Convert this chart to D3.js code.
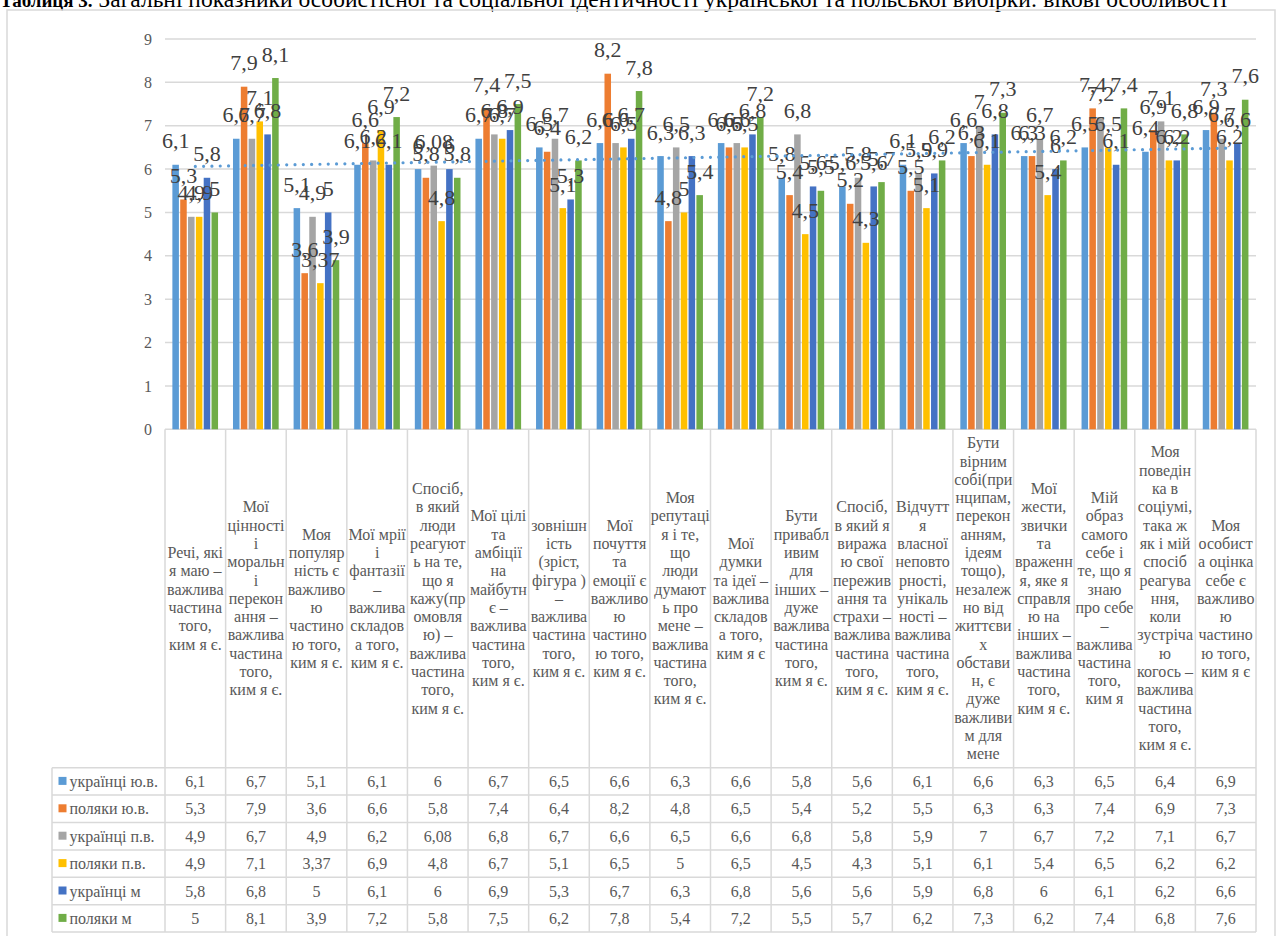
<!DOCTYPE html>
<html><head><meta charset="utf-8">
<script src="https://cdn.jsdelivr.net/npm/d3@7/dist/d3.min.js"></script>
<style>body{margin:0;background:#fff} svg{display:block}</style>
</head><body>
<svg id="c" width="1283" height="936"></svg>
<script>
// ---------- DATA ----------
const categories = [
  ["Речі, які","я маю –","важлива","частина","того,","ким я є."],
  ["Мої","цінності","і","моральн","і","перекон","ання –","важлива","частина","того,","ким я є."],
  ["Моя","популяр","ність є","важливо","ю","частино","ю того,","ким я є."],
  ["Мої мрії","і","фантазії","–","важлива","складов","а того,","ким я є."],
  ["Спосіб,","в який","люди","реагуют","ь на те,","що я","кажу(пр","омовля","ю) –","важлива","частина","того,","ким я є."],
  ["Мої цілі","та","амбіції","на","майбутн","є –","важлива","частина","того,","ким я є."],
  ["зовнішн","ість","(зріст,","фігура )","–","важлива","частина","того,","ким я є."],
  ["Мої","почуття","та","емоції є","важливо","ю","частино","ю того,","ким я є."],
  ["Моя","репутаці","я і те,","що","люди","думают","ь про","мене –","важлива","частина","того,","ким я є."],
  ["Мої","думки","та ідеї –","важлива","складов","а того,","ким я є"],
  ["Бути","привабл","ивим","для","інших –","дуже","важлива","частина","того,","ким я є."],
  ["Спосіб,","в який я","виража","ю свої","пережив","ання та","страхи –","важлива","частина","того,","ким я є."],
  ["Відчутт","я","власної","неповто","рності,","унікаль","ності –","важлива","частина","того,","ким я є."],
  ["Бути","вірним","собі(при","нципам,","перекон","анням,","ідеям","тощо),","незалеж","но від","життєви","х","обстави","н, є","дуже","важливи","м для","мене"],
  ["Мої","жести,","звички","та","враженн","я, яке я","справля","ю на","інших –","важлива","частина","того,","ким я є."],
  ["Мій","образ","самого","себе і","те, що я","знаю","про себе","–","важлива","частина","того,","ким я"],
  ["Моя","поведін","ка в","соціумі,","така ж","як і мій","спосіб","реагува","ння,","коли","зустріча","ю","когось –","важлива","частина","того,","ким я є."],
  ["Моя","особист","а оцінка","себе є","важливо","ю","частино","ю того,","ким я є"]
];
const seriesNames = ["українці ю.в.","поляки ю.в.","українці п.в.","поляки п.в.","українці м","поляки м"];
const ukrYoung  = [6.1,6.7,5.1,6.1,6,6.7,6.5,6.6,6.3,6.6,5.8,5.6,6.1,6.6,6.3,6.5,6.4,6.9];
const polYoung  = [5.3,7.9,3.6,6.6,5.8,7.4,6.4,8.2,4.8,6.5,5.4,5.2,5.5,6.3,6.3,7.4,6.9,7.3];
const ukrMature = [4.9,6.7,4.9,6.2,6.08,6.8,6.7,6.6,6.5,6.6,6.8,5.8,5.9,7,6.7,7.2,7.1,6.7];
const polMature = [4.9,7.1,3.37,6.9,4.8,6.7,5.1,6.5,5,6.5,4.5,4.3,5.1,6.1,5.4,6.5,6.2,6.2];
const ukrM      = [5.8,6.8,5,6.1,6,6.9,5.3,6.7,6.3,6.8,5.6,5.6,5.9,6.8,6,6.1,6.2,6.6];
const polM      = [5,8.1,3.9,7.2,5.8,7.5,6.2,7.8,5.4,7.2,5.5,5.7,6.2,7.3,6.2,7.4,6.8,7.6];
const yTicks = [0,1,2,3,4,5,6,7,8,9];
const titleBold = "Таблиця 3.";
const titleRest = " Загальні показники особистісної та соціальної ідентичності української та польської вибірки: вікові особливості";

// ---------- LAYOUT ----------
const seriesValues = [ukrYoung, polYoung, ukrMature, polMature, ukrM, polM];
const colors = ["#5B9BD5","#ED7D31","#A5A5A5","#FFC000","#4472C4","#70AD47"];
const plotL = 165, plotR = 1256, yTopPx = 39, yZeroPx = 429.3;
const headBottom = 767.7, rowH = 27.4, rowLabelL = 52;
const grid = "#d9d9d9", txt = "#595959";
const font = "'Liberation Serif','Times New Roman',serif";
const fmt = v => String(v).replace('.', ',');

const svg = d3.select("#c");
const idx = d3.range(categories.length);
const x0 = d3.scaleBand().domain(idx).range([plotL, plotR]).padding(0);
const x1 = d3.scaleBand().domain(d3.range(seriesNames.length))
  .range([x0.bandwidth()*0.111, x0.bandwidth()*0.886]).padding(0);
const y = d3.scaleLinear().domain([0, 9]).range([yZeroPx, yTopPx]);

// title (clipped at the top of the page)
const t = svg.append("text").attr("x", 0).attr("y", 6.5)
  .attr("font-family", font).attr("fill", "#000");
t.append("tspan").attr("font-weight", "bold").attr("font-size", 19).text(titleBold);
t.append("tspan").attr("font-size", 23.5).text(titleRest);

// outer chart border
svg.append("rect").attr("x", 7).attr("y", 10).attr("width", 1268).attr("height", 940)
  .attr("fill", "none").attr("stroke", grid).attr("stroke-width", 1.5);

// gridlines
svg.append("g").selectAll("line").data(yTicks).join("line")
  .attr("x1", plotL).attr("x2", plotR)
  .attr("y1", d => y(d)).attr("y2", d => y(d))
  .attr("stroke", grid).attr("stroke-width", 1.5);

// y axis labels
const yAxis = d3.axisLeft(y).tickValues(yTicks).tickSize(0).tickPadding(13).tickFormat(d => d);
const ya = svg.append("g").attr("transform", `translate(${plotL},0)`).call(yAxis);
ya.select(".domain").remove();
ya.selectAll("text").attr("font-family", font).attr("font-size", 16).attr("fill", txt);

// bars
const groups = svg.append("g").selectAll("g").data(idx).join("g")
  .attr("transform", i => `translate(${x0(i)},0)`);
groups.selectAll("rect").data(i => seriesValues.map((s, k) => ({k, v: s[i]}))).join("rect")
  .attr("x", d => x1(d.k) + 0.65).attr("width", x1.bandwidth() - 1.3)
  .attr("y", d => y(d.v)).attr("height", d => y(0) - y(d.v))
  .attr("fill", d => colors[d.k]);

// trendline (linear fit of the first series)
const n = ukrYoung.length;
const xs = d3.range(1, n + 1);
const mx = d3.mean(xs), my = d3.mean(ukrYoung);
const slope = d3.sum(xs, (xv, i) => (xv - mx) * (ukrYoung[i] - my)) / d3.sum(xs, xv => (xv - mx) ** 2);
const trendAt = xv => my + slope * (xv - mx);
svg.append("line")
  .attr("x1", x0(0) + x0.bandwidth()/2).attr("y1", y(trendAt(1)))
  .attr("x2", x0(n-1) + x0.bandwidth()/2).attr("y2", y(trendAt(n)))
  .attr("stroke", "#5B9BD5").attr("stroke-width", 3.2)
  .attr("stroke-linecap", "round").attr("stroke-dasharray", "0.01 8.3");

// data labels
groups.selectAll("text").data(i => seriesValues.map((s, k) => ({k, v: s[i]}))).join("text")
  .attr("x", d => x1(d.k) + x1.bandwidth()/2).attr("y", d => y(d.v) - 16.4)
  .attr("text-anchor", "middle").attr("font-family", font).attr("font-size", 22)
  .attr("fill", "#404040").text(d => fmt(d.v));

// data table lines
const tbl = svg.append("g").attr("stroke", grid).attr("stroke-width", 1.5);
const tableBottom = headBottom + rowH * seriesNames.length;
d3.range(categories.length + 1).forEach(i => {
  const xx = plotL + i * x0.bandwidth();
  tbl.append("line").attr("x1", xx).attr("x2", xx).attr("y1", yZeroPx).attr("y2", tableBottom);
});
tbl.append("line").attr("x1", rowLabelL).attr("x2", rowLabelL).attr("y1", headBottom).attr("y2", tableBottom);
d3.range(seriesNames.length + 1).forEach(r => {
  const yy = headBottom + r * rowH;
  tbl.append("line").attr("x1", rowLabelL).attr("x2", plotR).attr("y1", yy).attr("y2", yy);
});

// category header texts
const lineH = 18.3, headCenter = (yZeroPx + headBottom) / 2;
const hdr = svg.append("g").attr("font-family", font).attr("font-size", 16).attr("fill", txt).attr("text-anchor", "middle");
categories.forEach((lines, i) => {
  const cx = x0(i) + x0.bandwidth()/2;
  const y0 = headCenter - (lines.length - 1) / 2 * lineH + 5.3;
  const tx = hdr.append("text");
  lines.forEach((ln, j) => tx.append("tspan").attr("x", cx).attr("y", y0 + j * lineH).text(ln));
});

// table rows
const rows = svg.append("g").attr("font-family", font).attr("font-size", 16).attr("fill", txt);
seriesNames.forEach((name, r) => {
  const cy = headBottom + r * rowH + rowH / 2;
  rows.append("rect").attr("x", 58.5).attr("y", cy - 4.5).attr("width", 8).attr("height", 8).attr("fill", colors[r]);
  rows.append("text").attr("x", 69.5).attr("y", cy + 5.5).text(name);
  seriesValues[r].forEach((v, i) => {
    rows.append("text").attr("x", x0(i) + x0.bandwidth()/2).attr("y", cy + 5.5)
      .attr("text-anchor", "middle").text(fmt(v));
  });
});
</script>
</body></html>
